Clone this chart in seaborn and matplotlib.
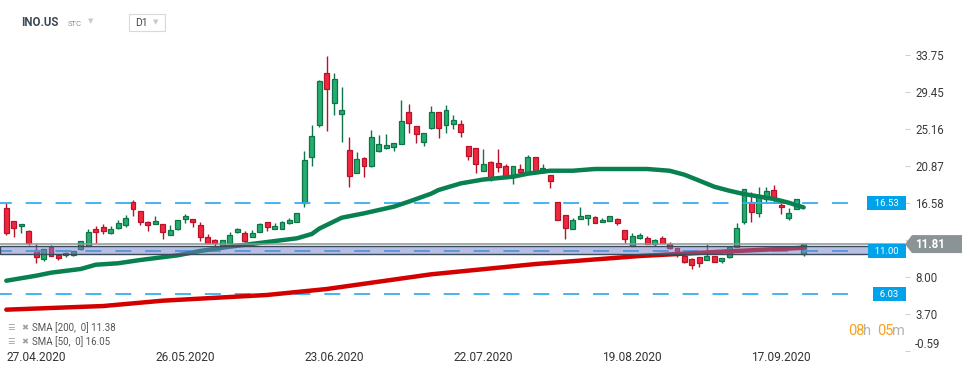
import numpy as np
import pandas as pd
import matplotlib
matplotlib.use('Agg')
import matplotlib.pyplot as plt
import seaborn as sns
from matplotlib.patches import Polygon, Rectangle
from matplotlib.transforms import Affine2D

# daily candles INO.US, 21.04.2020 - 22.09.2020
start_day, end_day = '2020-04-21', '2020-09-22'
holidays = ['2020-05-25', '2020-07-03', '2020-09-07']

opens = [15.95, 14.48, 13.86, 13.29, 11.13, 10.05, 11.51, 10.51, 10.51, 10.51,
         11.28, 11.63, 13.52, 13.75, 13.09, 13.67, 14.02, 16.72, 15.60, 14.33,
         14.17, 14.10, 12.82, 13.59, 14.75, 14.71, 14.02, 12.59, 12.24, 11.63,
         11.98, 13.17, 13.06, 12.59, 13.17, 14.33, 13.59, 13.59, 14.29, 14.40,
         16.60, 21.93, 25.63, 31.57, 28.10, 26.83, 22.66, 20.00, 21.73, 20.88,
         22.58, 22.89, 23.08, 23.35, 27.06, 25.44, 23.58, 25.21, 27.06, 25.55,
         25.67, 25.67, 23.12, 22.89, 20.31, 21.27, 21.15, 20.81, 19.61, 20.50,
         20.15, 21.85, 20.50, 19.77, 16.64, 15.14, 13.52, 14.67, 14.79, 14.90,
         14.33, 14.44, 14.67, 13.40, 11.63, 12.55, 12.47, 11.82, 12.47, 11.82,
         11.32, 10.47, 10.08, 10.27, 10.00, 10.39, 9.81, 10.27, 11.43, 14.40,
         16.64, 15.44, 17.02, 18.03, 16.33, 14.86, 15.87, 10.66]
highs = [16.53, 14.48, 14.13, 13.40, 11.78, 11.28, 11.67, 10.51, 10.93, 10.97,
         12.21, 13.52, 13.90, 14.10, 13.86, 14.56, 15.14, 16.91, 15.60, 14.52,
         15.02, 14.10, 13.98, 14.56, 15.33, 14.71, 14.33, 12.98, 12.36, 12.25,
         13.17, 13.63, 13.33, 13.40, 14.29, 14.33, 14.21, 14.44, 14.83, 15.37,
         22.58, 25.59, 30.80, 33.58, 31.61, 29.95, 24.16, 22.47, 21.85, 25.01,
         24.43, 24.55, 23.47, 28.48, 27.98, 25.44, 24.63, 27.79, 27.06, 27.91,
         26.75, 26.17, 23.12, 22.89, 22.81, 21.42, 22.81, 21.04, 20.81, 21.04,
         22.08, 21.85, 21.08, 19.77, 16.64, 15.14, 14.83, 16.10, 15.14, 15.06,
         14.79, 15.02, 14.79, 13.40, 13.06, 13.09, 12.70, 12.40, 12.74, 12.05,
         11.32, 10.74, 10.23, 10.27, 11.82, 10.39, 10.19, 11.51, 14.28, 18.14,
         17.80, 18.37, 18.37, 18.64, 16.98, 15.94, 16.98, 11.82]
lows = [12.86, 12.67, 13.13, 11.70, 9.66, 9.89, 10.47, 10.01, 10.28, 10.39,
        11.13, 11.63, 11.97, 12.94, 13.02, 13.52, 13.79, 15.10, 14.06, 13.36,
        14.17, 12.44, 12.82, 13.48, 14.25, 13.83, 12.21, 11.90, 11.43, 11.60,
        11.98, 13.06, 12.05, 12.59, 13.17, 13.36, 13.59, 13.59, 14.17, 14.40,
        16.14, 20.88, 25.40, 24.93, 26.75, 23.66, 18.45, 20.00, 19.61, 20.77,
        22.50, 22.85, 22.58, 23.35, 24.70, 23.55, 23.20, 25.09, 24.13, 24.70,
        25.17, 24.24, 21.54, 20.04, 20.31, 19.15, 20.19, 19.42, 18.80, 19.88,
        20.15, 19.88, 20.04, 18.34, 14.63, 12.44, 13.52, 14.67, 14.06, 14.21,
        14.33, 14.44, 13.98, 11.97, 11.63, 12.40, 11.78, 11.58, 11.97, 11.20,
        10.28, 9.60, 8.92, 9.15, 10.00, 9.77, 9.65, 10.20, 11.43, 14.17,
        14.40, 14.98, 16.52, 16.52, 15.33, 14.63, 15.87, 10.43]
closes = [13.05, 13.63, 14.13, 11.90, 10.28, 11.28, 10.47, 10.24, 10.74, 10.97,
          12.13, 13.17, 13.25, 13.36, 13.52, 14.21, 14.79, 15.83, 14.33, 14.06,
          14.52, 13.25, 13.40, 14.56, 15.02, 14.40, 12.59, 11.90, 11.90, 12.25,
          12.83, 13.52, 12.21, 13.06, 14.09, 13.82, 13.90, 14.33, 14.60, 15.37,
          21.50, 24.28, 30.68, 29.72, 30.88, 27.29, 19.65, 21.62, 20.88, 24.16,
          23.35, 23.28, 23.47, 26.02, 25.86, 24.51, 24.63, 27.06, 25.28, 27.29,
          26.13, 24.74, 21.97, 21.04, 21.04, 19.42, 20.77, 19.53, 20.81, 20.19,
          21.85, 20.31, 20.62, 19.07, 14.63, 13.63, 14.56, 15.02, 15.14, 14.21,
          14.56, 15.02, 14.21, 12.36, 12.71, 12.86, 11.78, 12.28, 11.97, 11.35,
          10.63, 9.78, 9.42, 9.65, 10.39, 9.77, 10.19, 11.51, 13.63, 18.14,
          15.48, 17.22, 17.91, 17.02, 16.06, 15.40, 16.98, 11.81]

# moving averages, read at some candles (candle number -> value)
sma50_at = [0, 4, 6, 10, 12, 15, 18, 23, 26, 30, 35, 39, 41, 42, 45, 48, 52, 54,
            57, 58, 61, 64, 68, 70, 73, 76, 79, 86, 89, 91, 93, 95, 97, 99, 103, 105, 107]
sma50 = [7.57, 8.15, 8.50, 8.93, 9.42, 9.59, 9.97, 10.51, 11.01, 11.51, 12.05, 12.48,
         12.98, 13.60, 14.86, 15.37, 16.14, 16.72, 17.64, 18.07, 18.84, 19.28, 19.61,
         19.96, 20.30, 20.30, 20.50, 20.50, 20.30, 19.84, 19.15, 18.45, 17.99, 17.60,
         17.03, 16.60, 16.05]
sma200_at = [0, 13, 21, 35, 43, 57, 71, 85, 96, 107]
sma200 = [4.22, 4.64, 5.26, 5.92, 6.61, 8.31, 9.50, 10.43, 10.93, 11.38]

levels = [16.53, 11.00, 6.03]
zone = (10.62, 11.56)
last_price = 11.81
price_ticks = [33.75, 29.45, 25.16, 20.87, 16.58, 12.29, 8.00, 3.70, -0.59]
date_ticks = ['27.04.2020', '26.05.2020', '23.06.2020', '22.07.2020', '19.08.2020', '17.09.2020']
legend_rows = ['SMA [200,  0] 11.38', 'SMA [50,  0] 16.05']

sns.set_theme(style='white')
plt.rcParams['font.family'] = ['Roboto', 'DejaVu Sans']
plt.rcParams['lines.scale_dashes'] = False

days = pd.bdate_range(start_day, end_day, freq='C', holidays=holidays)
df = pd.DataFrame({'day': days, 'open': opens, 'high': highs, 'low': lows, 'close': closes})
df['x'] = np.arange(len(df))

fig = plt.figure(figsize=(9.74, 3.75), dpi=100)
ax = fig.add_axes([0, 1 - 352 / 375, 905 / 974, 352 / 375])

# candles
up = df['close'] >= df['open']
fill = np.where(up, '#25ad6f', '#f0283e')
edge = np.where(up, '#0f7447', '#b8122b')
ax.vlines(df['x'], df['low'], df['high'], colors=edge, lw=1.0, zorder=2)
body_lo = np.minimum(df['open'], df['close'])
body_h = np.maximum((df['close'] - df['open']).abs(), 0.12)
ax.bar(df['x'], body_h, bottom=body_lo, width=0.66, color=fill, edgecolor=edge,
       linewidth=0.9, zorder=2.2)

# SMA lines
sns.lineplot(x=sma200_at, y=sma200, ax=ax, color='#d40000', lw=3.2, zorder=3,
             solid_capstyle='round')
sns.lineplot(x=sma50_at, y=sma50, ax=ax, color='#08804f', lw=3.2, zorder=3,
             solid_capstyle='round')

# horizontal levels
for lv in levels:
    ax.axhline(lv, xmin=0, xmax=858 / 905, color='#37aef0', lw=1.3,
               ls=(3, (11.5, 10)), zorder=2.5)
ax.hlines(levels[0], 100, 106.3, color='#37aef0', lw=1.3, zorder=2.5)

ax.axhspan(zone[0], zone[1], xmin=0, xmax=871 / 905, facecolor=(0.45, 0.49, 0.79, 0.5),
           edgecolor='#3a4a56', lw=1.0, zorder=4)
ax.axhline(last_price, color='#8c9599', lw=1.1, zorder=5)

ax.set_xlim(-0.846, 120.6)
ax.set_ylim(-0.68, 40.06)

# level tags on the right
for lv in levels:
    ax.text(0.998, lv, f'  {lv:.2f}  ', transform=ax.get_yaxis_transform(),
            ha='right', va='center', color='white', fontsize=6.8, zorder=6,
            clip_on=False, bbox=dict(boxstyle='square,pad=0.25', fc='#00a3ea', ec='none'))

# axes (12.29 sits under the price tag, so its label stays empty)
ax.yaxis.tick_right()
ax.set_yticks(price_ticks)
ax.set_yticklabels(['' if t == 12.29 else f'{t:.2f}' for t in price_ticks])
tick_pos = days.get_indexer(pd.to_datetime(date_ticks, dayfirst=True))
ax.set_xticks(tick_pos)
ax.set_xticklabels(date_ticks)
ax.tick_params(axis='y', right=True, left=False, labelright=True, labelleft=False,
               length=3.6, width=0.8, color='#d0d0d0', pad=3.6, labelsize=8.3,
               labelcolor='#3a3a3a')
ax.tick_params(axis='x', bottom=True, length=0, pad=-1.0, labelsize=8.6, labelcolor='#333333')
for lab in ax.get_yticklabels():
    if lab.get_text() == '-0.59':
        lab.set_va('bottom')
sns.despine(ax=ax, left=True, right=True, top=True, bottom=True)
ax.set_xlabel('')
ax.set_ylabel('')
ax.grid(False)

# current price tag
tip = ax.get_yaxis_transform().transform((1.0, last_price))
tag = Polygon([(0, 0), (7, 9), (57, 9), (57, -9), (7, -9)], closed=True,
              transform=Affine2D().translate(*tip), fc='#8a9396', ec='none', zorder=6)
fig.add_artist(tag)
fig.text(10, 0, f'{last_price:.2f}', transform=Affine2D().translate(*tip), ha='left',
         va='center', color='white', fontweight='bold', fontsize=8.4, zorder=7)

# header
fig.text(21 / 974, 1 - 23 / 375, 'INO.US', fontweight='bold', fontsize=8.3, color='#3d4a55',
         va='center')
fig.text(68 / 974, 1 - 24 / 375, 'STC', fontsize=5.5, color='#7890a0', va='center')
fig.text(88 / 974, 1 - 22 / 375, '▼', fontsize=5, color='#c8c8c8', va='center')
fig.add_artist(Rectangle((129 / 974, 1 - 31 / 375), 36 / 974, 17 / 375, transform=fig.transFigure,
                         fc='white', ec='#d9d9d9', lw=0.8))
fig.text(135 / 974, 1 - 23 / 375, 'D1', fontsize=7.5, color='#444444', va='center')
fig.text(153 / 974, 1 - 23 / 375, '▼', fontsize=5, color='#c8c8c8', va='center')

# legend rows
for i, row in enumerate(legend_rows):
    yy = 1 - (328 + 14 * i) / 375
    fig.text(7 / 974, yy, '☰', fontsize=6, color='#a0a0a0', va='center')
    fig.text(21 / 974, yy, '✖', fontsize=6, color='#a0a0a0', va='center')
    fig.text(32 / 974, yy, row, fontsize=7, color='#555555', va='center')

# countdown
yy = 1 - 331 / 375
fig.text(848 / 974, yy, '08', fontsize=10.5, color='#f7a21b', va='center')
fig.text(863 / 974, yy, 'h', fontsize=10.5, color='#b4b4b4', va='center')
fig.text(877 / 974, yy, '05', fontsize=10.5, color='#f7a21b', va='center')
fig.text(892 / 974, yy, 'm', fontsize=10.5, color='#b4b4b4', va='center')

fig.savefig('out.png', dpi=100)
